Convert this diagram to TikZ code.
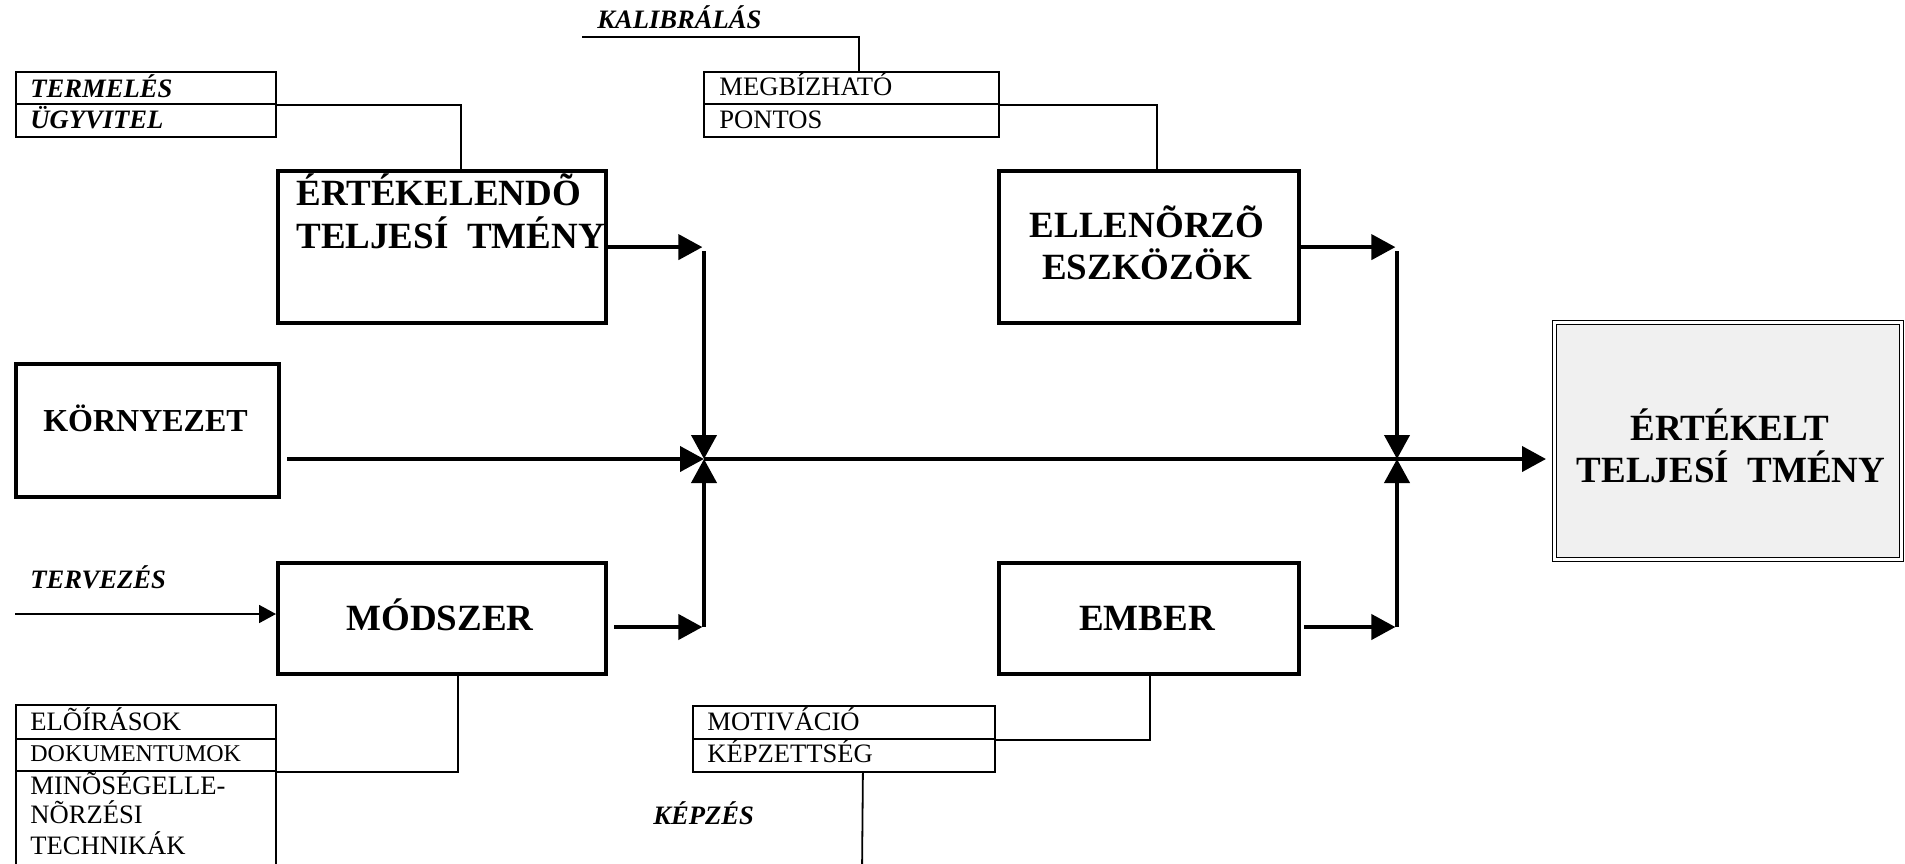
\documentclass[tikz,border=0pt]{standalone}
\usepackage{fontspec}
\setmainfont{Liberation Serif}
\usetikzlibrary{arrows.meta,calc}
\begin{document}
\begin{tikzpicture}[x=0.5pt,y=-0.5pt,
  bigbox/.style={draw, line width=2.1pt, inner sep=0pt, anchor=north west},
  cell/.style={draw, line width=0.9pt, inner sep=0pt, anchor=north west},
  bigtxt/.style={font=\fontsize{18.5}{21}\selectfont\bfseries, inner sep=0pt, anchor=base},
  itlbl/.style={font=\fontsize{13.3}{15}\selectfont\bfseries\itshape, inner sep=0pt, anchor=base west},
  rglbl/.style={font=\fontsize{13.3}{15}\selectfont, inner sep=0pt, anchor=base west},
  flow/.style={line width=2pt, -{Triangle[length=12pt,width=12.5pt]}},
  flowline/.style={line width=2pt},
  link/.style={line width=0.9pt},
  thinarrow/.style={line width=0.9pt, -{Triangle[length=8.5pt,width=9pt]}}
]
\useasboundingbox (0,0) rectangle (1905,863);
\clip (0,0) rectangle (1905,863);

% main boxes
\node[bigbox, minimum width=164pt, minimum height=76pt] (ert) at (276,169) {};
\node[bigbox, minimum width=150pt, minimum height=76pt] (ell) at (997,169) {};
\node[bigbox, minimum width=131.5pt, minimum height=66.5pt] (korny) at (14,362) {};
\node[bigbox, minimum width=164pt, minimum height=55.5pt] (modsz) at (276,561) {};
\node[bigbox, minimum width=150pt, minimum height=55.5pt] (ember) at (997,561) {};
\node[draw, double, line width=0.5pt, double distance=1.4pt, fill=black!6, inner sep=0pt,
      anchor=north west, minimum width=173.5pt, minimum height=118.5pt] (res) at (1554,322) {};

% texts of main boxes
\node[bigtxt, anchor=base west] at (296,205) {ÉRTÉKELENDÕ};
\node[bigtxt, anchor=base west] at (296,248) {TELJESÍ\hspace{0.5em}TMÉNY};
\node[bigtxt] at (1147,237) {ELLENÕRZÕ};
\node[bigtxt] at (1147,279) {ESZKÖZÖK};
\node[bigtxt, font=\fontsize{16}{19}\selectfont\bfseries] at (145.5,431) {KÖRNYEZET};
\node[bigtxt] at (440,630) {MÓDSZER};
\node[bigtxt] at (1147,630) {EMBER};
\node[bigtxt] at (1730,440) {ÉRTÉKELT};
\node[bigtxt] at (1731,482) {TELJESÍ\hspace{0.5em}TMÉNY};

% small cells
\node[cell, minimum width=130pt, minimum height=16pt] (t1) at (15,71) {};
\node[cell, minimum width=130pt, minimum height=16.5pt] (t2) at (15,103) {};
\node[cell, minimum width=147.5pt, minimum height=16pt] (m1) at (703,71) {};
\node[cell, minimum width=147.5pt, minimum height=16.5pt] (m2) at (703,103) {};
\node[cell, minimum width=130pt, minimum height=17pt] (elo1) at (15,704) {};
\node[cell, minimum width=130pt, minimum height=16pt] (elo2) at (15,738) {};
\node[cell, minimum width=130pt, minimum height=55pt] (elo3) at (15,770) {};
\node[cell, minimum width=151pt, minimum height=16.5pt] (mo1) at (692,705) {};
\node[cell, minimum width=151pt, minimum height=16.5pt] (mo2) at (692,738) {};

% cell texts
\node[itlbl] at (30,97) {TERMELÉS};
\node[itlbl] at (30,128) {ÜGYVITEL};
\node[rglbl] at (719,95) {MEGBÍZHATÓ};
\node[rglbl] at (719,128) {PONTOS};
\node[rglbl] at (30,730) {ELÕÍRÁSOK};
\node[rglbl, font=\fontsize{12}{14}\selectfont] at (30,761) {DOKUMENTUMOK};
\node[rglbl] at (30,794) {MINÕSÉGELLE-};
\node[rglbl] at (30,823) {NÕRZÉSI};
\node[rglbl] at (30,854) {TECHNIKÁK};
\node[rglbl] at (707,730) {MOTIVÁCIÓ};
\node[rglbl] at (707,762) {KÉPZETTSÉG};

% free labels
\node[itlbl] at (597,28) {KALIBRÁLÁS};
\node[itlbl] at (30,588) {TERVEZÉS};
\node[itlbl] at (653,824) {KÉPZÉS};

% thin connectors
\coordinate (kal) at (582,37);
\coordinate (kpz) at (862,875);
\coordinate (tv) at (15,614);
\draw[link] (t1.south east) -| ([xshift=9.5pt]ert.north);
\draw[link] (kal) -| ([xshift=3.75pt]m1.north);
\draw[link] (m1.south east) -| ([xshift=4pt]ell.north);
\draw[link] ([xshift=8pt]modsz.south) |- (elo2.south east);
\draw[link] ([xshift=0.5pt]ember.south) |- (mo1.south east);
\draw[link] ([xshift=9.5pt]mo2.south) -- (kpz);
\draw[thinarrow] (tv) -- (modsz.west |- tv);

% flow
\coordinate (J1) at (704,459);
\coordinate (J2) at (1397,459);
\coordinate (T1) at (704,251);
\coordinate (B1) at (704,627);
\coordinate (T2) at (1397,251);
\coordinate (B2) at (1397,627);
\draw[flow] (ert.east) -- ([xshift=-0.8pt]ert.east -| J1);
\draw[flow] (T1) -- (J1);
\draw[flow] ([xshift=3pt]korny.east |- J1) -- (J1);
\draw[flow] ([xshift=3pt]modsz.east |- B1) -- ([xshift=-0.8pt]B1);
\draw[flow] (B1) -- (J1);
\draw[flowline] (J1) -- (J2);
\draw[flow] (ell.east) -- ([xshift=-0.8pt]ell.east -| J2);
\draw[flow] (T2) -- (J2);
\draw[flow] ([xshift=1.5pt]ember.east |- B2) -- ([xshift=-0.8pt]B2);
\draw[flow] (B2) -- (J2);
\draw[flow] (J2) -- ([xshift=-4pt]res.west |- J2);
\end{tikzpicture}
\end{document}
